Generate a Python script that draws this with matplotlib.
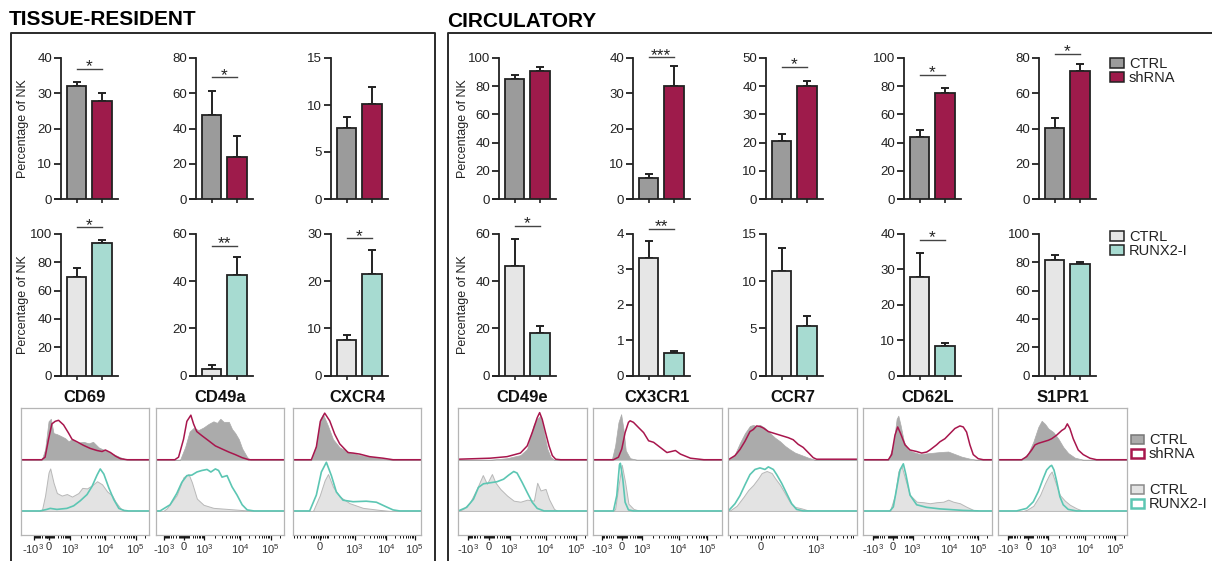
import numpy as np
import matplotlib
matplotlib.use("Agg")
import matplotlib.pyplot as plt
from matplotlib.lines import Line2D
from matplotlib.patches import Rectangle

plt.rcParams["font.family"] = ["Liberation Sans", "DejaVu Sans"]
plt.rcParams["mathtext.fontset"] = "custom"
plt.rcParams["mathtext.rm"] = "Liberation Sans"
plt.rcParams["mathtext.it"] = "Liberation Sans:italic"
plt.rcParams["mathtext.bf"] = "Liberation Sans:bold"

# ---------------- data ----------------
markers = ["CD69", "CD49a", "CXCR4", "CD49e", "CX3CR1", "CCR7", "CD62L", "S1PR1"]

# shRNA knock-down (top row), % of NK, mean and SD
sh_ctrl_mean = [32.0, 47.7, 7.6, 84.9, 6.0, 20.6, 44.2, 40.3]
sh_ctrl_sd = [1.3, 13.7, 1.1, 3.0, 1.2, 2.4, 4.7, 5.8]
sh_mean = [27.7, 23.7, 10.1, 91.0, 32.1, 40.2, 75.4, 72.6]
sh_sd = [2.4, 12.0, 1.85, 2.8, 5.6, 1.7, 3.3, 4.2]
sh_ymax = [40, 80, 15, 100, 40, 50, 100, 80]
sh_ystep = [10, 20, 5, 20, 10, 10, 20, 20]
sh_sig = ["*", "*", "", "", "***", "*", "*", "*"]
sh_sig_y = [36.9, 69.0, None, None, 40.2, 46.9, 87.9, 82.4]

# RUNX2 inhibitor (bottom row)
rx_ctrl_mean = [69.4, 2.9, 7.6, 46.4, 3.33, 11.1, 27.9, 81.6]
rx_ctrl_sd = [6.4, 1.55, 1.0, 11.3, 0.47, 2.45, 6.6, 3.6]
rx_mean = [93.9, 42.7, 21.5, 17.9, 0.63, 5.25, 8.3, 78.6]
rx_sd = [1.9, 7.7, 5.1, 3.1, 0.07, 1.1, 0.8, 1.6]
rx_ymax = [100, 60, 30, 60, 4, 15, 40, 100]
rx_ystep = [20, 20, 10, 20, 1, 5, 10, 20]
rx_sig = ["*", "**", "*", "*", "**", "", "*", ""]
rx_sig_y = [104.7, 54.9, 29.1, 63.4, 4.15, None, 38.3, None]

# flow histograms: (channel %, height % of lane) pairs
cd69_sh_ctrl = [(0, 0), (16.4, 0), (19, 20), (21.7, 75), (23.5, 80), (25.6, 52), (28.2, 50), (30.8, 47), (34.7, 42), (37.3, 36), (40, 40), (43.9, 33), (49, 35), (53, 32), (56.4, 35), (60.8, 24), (66, 18), (71.3, 12), (76.5, 6), (81.7, 1), (85.6, 0), (100, 0)]
cd69_sh = [(0, 0), (16.4, 0), (19, 5), (21.7, 40), (24.3, 70), (26.9, 75), (29.5, 77), (33.4, 68), (37.3, 52), (40, 40), (43.9, 35), (49, 28), (54.3, 22), (59.5, 18), (63.4, 16), (66, 19), (70, 14), (73.9, 7), (77.8, 2), (83, 0), (100, 0)]
cd69_rx_ctrl = [(0, 0), (16.4, 0), (19, 30), (21.7, 75), (23, 83), (25.6, 55), (28.2, 35), (32, 30), (36, 33), (40, 28), (45, 35), (48, 45), (51.7, 44), (55.6, 50), (59.5, 58), (63.4, 52), (67.4, 38), (71.3, 30), (73.9, 18), (77.8, 5), (81.7, 0), (100, 0)]
cd69_rx = [(0, 0), (15, 0), (20.4, 3), (23, 5), (28.2, 3), (36, 5), (41.3, 10), (46.5, 20), (51.7, 32), (55.6, 48), (59.5, 70), (62, 82), (64.8, 72), (68.7, 45), (72.6, 22), (76.5, 5), (80.4, 1), (84, 0), (100, 0)]

cd49a_sh_ctrl = [(0, 0), (19, 0), (23, 25), (26.4, 55), (29.5, 62), (33.4, 58), (37.3, 63), (41.3, 70), (45, 75), (47.8, 72), (50.4, 80), (53, 74), (57, 74), (59.5, 60), (62, 52), (64.8, 40), (67.4, 22), (71.3, 5), (73.9, 0), (100, 0)]
cd49a_sh = [(0, 0), (14.9, 0), (17.8, 5), (21.7, 40), (24.3, 75), (27.4, 87), (29.5, 70), (32, 55), (36, 47), (41.3, 37), (46.5, 27), (51.7, 21), (57, 15), (62, 10), (67.4, 4), (72.6, 0), (100, 0)]
cd49a_rx_ctrl = [(0, 0), (6, 0), (8.6, 5), (16.4, 31), (21.7, 66), (25.6, 72), (28.2, 56), (32.1, 24), (37.3, 12), (45, 6), (60.8, 3), (76.5, 0), (100, 0)]
cd49a_rx = [(0, 0), (3.4, 0), (11.2, 12), (16.4, 34), (20.4, 56), (24.3, 69), (28.2, 70), (32.1, 76), (36, 79), (40, 81), (43, 76), (46.5, 82), (49, 79), (51.7, 66), (55.6, 69), (59.5, 47), (63.4, 31), (67.4, 12), (71.3, 2), (76.5, 0), (100, 0)]

cxcr4_sh_ctrl = [(0, 0), (14.3, 0), (18.2, 30), (21.3, 80), (23.4, 89), (27.3, 66), (31.2, 40), (36.4, 24), (44.2, 14), (52, 9), (62.3, 5), (72.7, 1), (78, 0), (100, 0)]
cxcr4_sh = [(0, 0), (14.3, 0), (18.2, 25), (21.3, 75), (24.7, 91), (28.6, 76), (32.5, 50), (36.4, 31), (42.9, 14), (46.8, 13), (52, 11), (59.7, 6), (70.1, 3), (78, 0), (100, 0)]
cxcr4_rx_ctrl = [(0, 0), (15.6, 0), (20.8, 30), (24.7, 60), (27.3, 72), (31.2, 47), (36.4, 28), (44.2, 15), (54.5, 6), (67.5, 2), (75.3, 0), (100, 0)]
cxcr4_rx = [(0, 0), (13, 0), (18.2, 31), (22.1, 76), (26, 95), (29.9, 69), (33.8, 37), (39, 21), (46.8, 18), (57.1, 19), (65, 17), (72.7, 8), (78, 2), (83.1, 0), (100, 0)]

cd49e_sh_ctrl = [(0, 0), (24.9, 0), (38, 3), (48.4, 9), (53.7, 21), (56.3, 47), (58.9, 69), (61.5, 80), (64.1, 86), (66.8, 53), (69.4, 21), (72, 5), (74.6, 0), (100, 0)]
cd49e_sh = [(0, 1), (24.9, 3), (38, 6), (48.4, 13), (53.7, 27), (57.6, 53), (61.5, 82), (63.4, 92), (65.4, 79), (68, 53), (70.7, 27), (73.3, 8), (75.9, 1), (79.8, 0), (100, 0)]
cd49e_rx_ctrl = [(0, 0), (3.9, 4), (9.2, 17), (14.4, 43), (19.1, 70), (22.3, 53), (26.2, 72), (28.8, 56), (32.7, 43), (38, 30), (43.2, 20), (48.4, 18), (53.7, 22), (58.9, 20), (61.5, 55), (64.1, 40), (68, 43), (70.7, 23), (74.6, 4), (77.2, 0), (100, 0)]
cd49e_rx = [(0, 0), (6.5, 7), (11.8, 23), (15.7, 46), (19.6, 53), (24.9, 55), (30.1, 57), (35.3, 62), (39.3, 70), (43.2, 77), (45.8, 74), (49.7, 56), (53.7, 36), (57.6, 17), (61.5, 5), (66.8, 0), (100, 0)]

cx3cr1_sh_ctrl = [(0, 0), (14.4, 0), (17, 27), (19.6, 73), (21.7, 89), (23.5, 60), (25.3, 18), (28.7, 3), (33.9, 0), (100, 0)]
cx3cr1_sh = [(0, 0), (15.7, 0), (19.6, 5), (22.2, 21), (24.8, 53), (27.4, 73), (28.7, 76), (31.3, 73), (35.2, 63), (39.2, 53), (43.1, 37), (47, 34), (52.2, 24), (57.4, 14), (64, 18), (67.9, 11), (75.7, 3), (86.2, 0), (100, 0)]
cx3cr1_rx_ctrl = [(0, 0), (15.7, 0), (17, 4), (19.6, 49), (22.2, 90), (24.8, 56), (27.4, 14), (31.3, 4), (36.6, 0), (100, 0)]
cx3cr1_rx = [(0, 0), (15.7, 0), (18.3, 30), (20.4, 90), (21.1, 93), (23, 62), (24.8, 17), (27.4, 2), (31.3, 0), (100, 0)]

ccr7_sh_ctrl = [(0, 0), (1.3, 1), (5.2, 11), (9.1, 33), (13, 52), (16.9, 66), (19.5, 68), (22.1, 65), (24.7, 68), (28.6, 62), (32.5, 52), (36.4, 43), (40.3, 36), (44.2, 27), (48.1, 20), (51.9, 14), (57.1, 9), (62.3, 4), (67.5, 0), (100, 0)]
ccr7_sh = [(0, 0), (5.2, 8), (9.1, 20), (13, 36), (16.9, 55), (19.5, 59), (22.1, 66), (24.7, 65), (27.3, 62), (31.2, 55), (35.1, 52), (39, 49), (42.9, 46), (46.8, 43), (50.6, 39), (54.5, 30), (58.4, 24), (62.3, 14), (66.2, 4), (68.8, 1), (100, 1)]
ccr7_rx_ctrl = [(0, 0), (1.3, 1), (6.5, 10), (11.7, 27), (15.6, 41), (19.5, 51), (23.4, 64), (26, 74), (29.9, 78), (33.8, 74), (36.4, 64), (40.3, 51), (44.2, 34), (48.1, 17), (51.9, 8), (57.1, 5), (62.3, 1), (66.2, 0), (100, 0)]
ccr7_rx = [(0, 0), (5.2, 14), (9.1, 30), (13, 51), (16.9, 71), (20.8, 81), (24.7, 84), (28.6, 81), (31.2, 86), (35.1, 81), (37.7, 71), (41.6, 54), (45.5, 34), (49.4, 14), (53.2, 3), (58.4, 0), (100, 0)]

cd62l_sh_ctrl = [(0, 0), (19.5, 0), (23.4, 29), (26, 80), (27.3, 86), (29.1, 67), (31.7, 35), (35.1, 19), (39, 15), (44.2, 11), (51.9, 13), (59.7, 15), (66.2, 16), (71.4, 11), (76.6, 6), (83.1, 2), (88.3, 0), (100, 0)]
cd62l_sh = [(0, 0), (19.5, 0), (22.1, 10), (24.7, 48), (26.8, 64), (29.1, 51), (32.5, 29), (36.4, 19), (41.6, 16), (45.5, 13), (49.4, 15), (51.9, 19), (57.1, 29), (59.7, 35), (63.6, 41), (67.5, 51), (71.4, 61), (75.3, 66), (77.9, 64), (80.5, 54), (83.1, 29), (85.7, 10), (89.6, 2), (93.5, 0), (100, 0)]
cd62l_rx_ctrl = [(0, 0), (20.8, 0), (24.7, 31), (27.3, 77), (29.9, 87), (32.5, 64), (36.4, 31), (41.6, 18), (46.8, 17), (51.9, 15), (57.1, 17), (62.3, 18), (66.2, 22), (70.1, 18), (75.3, 15), (80.5, 8), (85.7, 2), (89.6, 0), (100, 0)]
cd62l_rx = [(0, 0), (20.8, 0), (23.4, 8), (26, 44), (28.6, 80), (31.2, 92), (33.2, 71), (36.4, 31), (41.6, 12), (49.4, 7), (59.7, 4), (77.9, 1), (90.9, 0), (100, 0)]

s1pr1_sh_ctrl = [(0, 0), (18.2, 0), (23.4, 13), (27.3, 35), (31.2, 64), (33.8, 76), (36.4, 70), (39, 61), (42.9, 54), (46.8, 41), (50.6, 25), (54.5, 13), (59.7, 4), (66.2, 0), (100, 0)]
s1pr1_sh = [(0, 0), (18.2, 0), (22.1, 6), (26, 19), (28.6, 29), (31.2, 32), (35.1, 35), (39, 38), (41.6, 41), (45.5, 48), (49.4, 57), (51.9, 61), (53.8, 70), (55.8, 61), (58.4, 41), (62.3, 19), (66.2, 10), (71.4, 3), (76.6, 0), (100, 0)]
s1pr1_rx_ctrl = [(0, 0), (19.5, 0), (22.1, 2), (27.3, 10), (32.5, 31), (36.4, 54), (39.7, 71), (41.6, 77), (44.2, 58), (48, 31), (51.9, 20), (55.8, 12), (61, 5), (66.2, 0), (100, 0)]
s1pr1_rx = [(0, 0), (14.3, 0), (22.1, 5), (27.3, 18), (31.2, 38), (35.1, 64), (37.7, 80), (40.3, 87), (41.6, 89), (43.4, 80), (45.5, 58), (48, 28), (50.6, 12), (54.5, 3), (61, 0), (100, 0)]

hist_sh_ctrl = [cd69_sh_ctrl, cd49a_sh_ctrl, cxcr4_sh_ctrl, cd49e_sh_ctrl, cx3cr1_sh_ctrl, ccr7_sh_ctrl, cd62l_sh_ctrl, s1pr1_sh_ctrl]
hist_sh = [cd69_sh, cd49a_sh, cxcr4_sh, cd49e_sh, cx3cr1_sh, ccr7_sh, cd62l_sh, s1pr1_sh]
hist_rx_ctrl = [cd69_rx_ctrl, cd49a_rx_ctrl, cxcr4_rx_ctrl, cd49e_rx_ctrl, cx3cr1_rx_ctrl, ccr7_rx_ctrl, cd62l_rx_ctrl, s1pr1_rx_ctrl]
hist_rx = [cd69_rx, cd49a_rx, cxcr4_rx, cd49e_rx, cx3cr1_rx, ccr7_rx, cd62l_rx, s1pr1_rx]

# channel position of -10^3, 0, 10^3, 10^4, 10^5 on each histogram axis
decade_labels = ["-10$^{3}$", "0", "10$^{3}$", "10$^{4}$", "10$^{5}$"]
hist_decade_pos = [
    [10, 22, 38.6, 66, 89.6],
    [6.5, 22.2, 37.9, 66, 89.6],
    [-6.4, 20.8, 48, 72.7, 94.8],
    [7.9, 23.6, 40, 68, 91.6],
    [6.5, 22.2, 37.9, 66.6, 88.8],
    [-18.4, 25.2, 68.8, 102.8, 136.8],
    [7.8, 22.9, 38.4, 67, 89.6],
    [7.8, 23.4, 39, 67.5, 90.9],
]

# ---------------- layout ----------------
W, H = 1212, 561
fig = plt.figure(figsize=(W / 100, H / 100), dpi=100)

C_GRAY = "#9b9b9b"
C_CRIMSON = "#9e1b4b"
C_LIGHT = "#e6e6e6"
C_TEAL = "#a7dbd1"
C_EDGE = "#222222"
C_FILL_DARK = "#ababab"
C_LINE_RED = "#a8164d"
C_FILL_LIGHT = "#e3e3e3"
C_LINE_TEAL = "#5cc6b3"

bar_axis_x = [61, 196, 331, 499, 633, 766, 904, 1039]
hist_x0 = [20.7, 155.7, 293, 458.3, 593.3, 728.3, 863.3, 998.3]
HIST_W = 128.3


def px_rect(x0, y0, x1, y1):
    return [x0 / W, 1 - y1 / H, (x1 - x0) / W, (y1 - y0) / H]


def bar_panel(axis_x, top, zero, means, sds, ymax, step, sig, sig_y, colors):
    pitch = 25.5
    c0 = axis_x + 15.5
    left, right = axis_x - 6, axis_x + 57
    ax = fig.add_axes(px_rect(left, top, right, zero))
    ax.set_xlim((left - c0) / pitch, (right - c0) / pitch)
    ax.set_ylim(0, ymax)
    ax.patch.set_alpha(0)
    for s in ["top", "right"]:
        ax.spines[s].set_visible(False)
    for s in ["left", "bottom"]:
        ax.spines[s].set_linewidth(1.3)
        ax.spines[s].set_color(C_EDGE)
    ax.spines["left"].set_position(("data", (axis_x - c0) / pitch))
    ax.spines["left"].set_bounds(0, ymax)

    xs = [0, 1]
    ax.bar(xs, means, width=19.5 / pitch, color=colors, edgecolor=C_EDGE,
           linewidth=1.3, zorder=3)
    ax.errorbar(xs, means, yerr=[[0, 0], sds], fmt="none", ecolor=C_EDGE,
                elinewidth=1.4, capsize=3, capthick=1.4, zorder=2, clip_on=False)

    ticks = np.arange(0, ymax + step / 2, step)
    ax.set_yticks(ticks)
    ax.set_yticklabels([f"{int(t)}" for t in ticks])
    ax.tick_params(axis="y", direction="out", length=5, width=1.3, color=C_EDGE,
                   labelsize=9.5, labelcolor="#222222", pad=1.5)
    ax.set_xticks(xs)
    ax.set_xticklabels([])
    ax.tick_params(axis="x", direction="out", length=3, width=1.2, color=C_EDGE)

    if sig:
        ax.plot(xs, [sig_y, sig_y], color="#444444", lw=1.0, clip_on=False)
        ax.annotate(sig, (0.5, sig_y), xytext=(0, -1.8), textcoords="offset points",
                    ha="center", va="baseline", fontsize=12.5, color="#222222",
                    annotation_clip=False)
    return ax


def decade_pos(v, pos, w=150.0):
    pn, p0, p3, p4, p5 = pos
    if 0 <= v <= 1e3:
        return p0 + (p3 - p0) * np.arcsinh(v / w) / np.arcsinh(1e3 / w)
    if -1e3 <= v < 0:
        return p0 - (p0 - pn) * np.arcsinh(-v / w) / np.arcsinh(1e3 / w)
    if v <= 1e4:
        return p3 + (p4 - p3) * np.log10(v / 1e3)
    if v <= 1e5:
        return p4 + (p5 - p4) * np.log10(v / 1e4)
    return p5 + (p5 - p4) * np.log10(v / 1e5)


minor_values = ([-v for v in range(100, 1000, 100)] + [-20, -40, -60, -80, 20, 40, 60, 80]
                + list(range(100, 1000, 100))
                + [m * 1e3 for m in range(2, 10)] + [m * 1e4 for m in range(2, 10)] + [2e5])


def hist_panel(x0, sh_ctrl, sh, rx_ctrl, rx, pos):
    ax = fig.add_axes(px_rect(x0, 408, x0 + HIST_W, 535))
    ax.set_xlim(0, 100)
    ax.set_ylim(-47, 201)
    up = 100
    x, h = np.array(sh_ctrl, dtype=float).T
    ax.fill_between(x, up, up + h, facecolor=C_FILL_DARK, edgecolor=C_FILL_DARK, lw=0.5)
    x, h = np.array(sh, dtype=float).T
    ax.plot(x, up + h, color=C_LINE_RED, lw=1.1, solid_joinstyle="round")
    x, h = np.array(rx_ctrl, dtype=float).T
    ax.fill_between(x, 0, h, facecolor=C_FILL_LIGHT, edgecolor="#b8b8b8", lw=0.7)
    x, h = np.array(rx, dtype=float).T
    ax.plot(x, h, color=C_LINE_TEAL, lw=1.2, solid_joinstyle="round")

    for s in ax.spines.values():
        s.set_color("#b5b5b5")
        s.set_linewidth(0.9)
    ax.set_yticks([])
    maj_pos = [p for p in pos if 0 <= p <= 100]
    maj_lab = [lab for p, lab in zip(pos, decade_labels) if 0 <= p <= 100]
    ax.set_xticks(maj_pos)
    ax.set_xticklabels(maj_lab)
    mins = [decade_pos(v, pos) for v in minor_values]
    ax.set_xticks([m for m in mins if 0.5 <= m <= 99.5], minor=True)
    ax.tick_params(axis="x", which="major", direction="out", length=3.5, width=0.9,
                   color="#111111", labelsize=8, labelcolor="#333333", pad=1.5)
    ax.tick_params(axis="x", which="minor", direction="out", length=2.2, width=0.7,
                   color="#111111")
    return ax


# bar charts
for i in range(len(markers)):
    bar_panel(bar_axis_x[i], 58, 199, [sh_ctrl_mean[i], sh_mean[i]], [sh_ctrl_sd[i], sh_sd[i]],
              sh_ymax[i], sh_ystep[i], sh_sig[i], sh_sig_y[i], [C_GRAY, C_CRIMSON])
    bar_panel(bar_axis_x[i], 234, 375.5, [rx_ctrl_mean[i], rx_mean[i]], [rx_ctrl_sd[i], rx_sd[i]],
              rx_ymax[i], rx_ystep[i], rx_sig[i], rx_sig_y[i], [C_LIGHT, C_TEAL])
    hist_panel(hist_x0[i], hist_sh_ctrl[i], hist_sh[i], hist_rx_ctrl[i], hist_rx[i],
               hist_decade_pos[i])
    fig.text((hist_x0[i] + HIST_W / 2) / W, 1 - 401.5 / H, markers[i], ha="center",
             va="baseline", fontsize=12, fontweight="bold", color="#111111")

# y labels
for xl in [23, 463]:
    for yc in [128.5, 305]:
        fig.text(xl / W, 1 - yc / H, "Percentage of NK", rotation=90, ha="center",
                 va="center", fontsize=9, color="#222222")

# group frames and titles
frame = dict(color="#2a2a2a", lw=1.4, transform=fig.transFigure, clip_on=False)
fig.add_artist(Line2D([11 / W, 11 / W, 435 / W, 435 / W], [0, 1 - 33 / H, 1 - 33 / H, 0], **frame))
fig.add_artist(Line2D([1.01, 448 / W, 448 / W], [1 - 33 / H, 1 - 33 / H, 0], **frame))
fig.text(9 / W, 1 - 25 / H, "TISSUE-RESIDENT", fontsize=15, fontweight="bold",
         va="baseline", ha="left")
fig.text(447 / W, 1 - 27 / H, "CIRCULATORY", fontsize=15, fontweight="bold",
         va="baseline", ha="left")


def legend_row(x, yc, w, h, face, edge, lw, label, size=10.5):
    fig.add_artist(Rectangle((x / W, 1 - (yc + h / 2) / H), w / W, h / H,
                             transform=fig.transFigure, facecolor=face,
                             edgecolor=edge, lw=lw))
    fig.text((x + w + 5) / W, 1 - (yc + 5.2) / H, label, va="baseline", ha="left",
             fontsize=size, color="#222222")


legend_row(1110, 63, 14, 10, C_GRAY, C_EDGE, 1.1, "CTRL")
legend_row(1110, 77, 14, 10, C_CRIMSON, C_EDGE, 1.1, "shRNA")
legend_row(1110, 236, 14, 10, C_LIGHT, C_EDGE, 1.1, "CTRL")
legend_row(1110, 250, 14, 10, C_TEAL, C_EDGE, 1.1, "RUNX2-I")

legend_row(1131, 439, 13, 9, C_FILL_DARK, "#777777", 1.1, "CTRL")
legend_row(1131, 453, 13, 9, "white", C_LINE_RED, 1.8, "shRNA")
legend_row(1131, 489, 13, 9, C_FILL_LIGHT, "#8a8a8a", 1.1, "CTRL")
legend_row(1131, 503, 13, 9, "white", C_LINE_TEAL, 1.8, "RUNX2-I")

fig.savefig("out.png", dpi=100)
